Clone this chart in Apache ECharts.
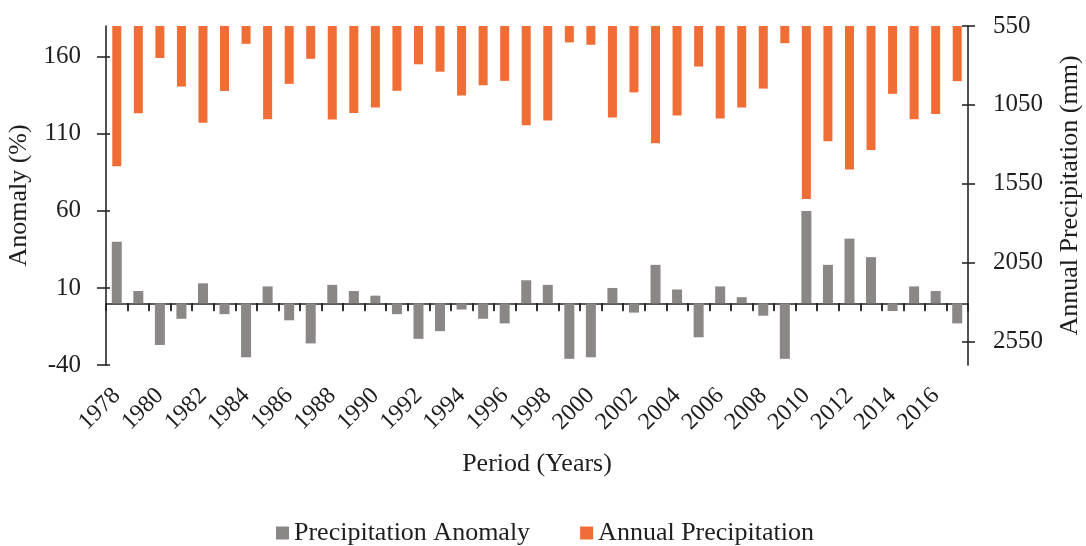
<!DOCTYPE html>
<html>
<head>
<meta charset="utf-8">
<script src="https://cdn.jsdelivr.net/npm/echarts@6/dist/echarts.min.js"></script>
<style>html,body{margin:0;padding:0;background:#fff}#c{width:1086px;height:546px}</style>
</head>
<body>
<div id="c"></div>
<script>
const years = ['1978','1979','1980','1981','1982','1983','1984','1985','1986','1987','1988','1989','1990','1991','1992','1993','1994','1995','1996','1997','1998','1999','2000','2001','2002','2003','2004','2005','2006','2007','2008','2009','2010','2011','2012','2013','2014','2015','2016','2017'];
const anomaly = [40,8,-27,-10,13,-7,-35,11,-11,-26,12,8,5,-7,-23,-18,-4,-10,-13,15,12,-36,-35,10,-6,25,9,-22,11,4,-8,-36,60,25,42,30,-5,11,8,-13];
const precipitation = [1440,1103,753,934,1163,962,663,1141,917,758,1143,1101,1067,961,793,840,991,926,898,1179,1150,654,669,1130,971,1293,1117,807,1137,1067,947,659,1647,1281,1460,1336,980,1141,1108,900];
const leftTicks = [-40,10,60,110,160];
const rightTicks = [550,1050,1550,2050,2550];

const FONT = 'Liberation Serif';
const AX = '#262626';
const TXT = '#1e1e1e';
const plain = v => String(v);
const chart = echarts.init(document.getElementById('c'));
chart.setOption({
  animation: false,
  grid: {left: 106, right: 118, top: 26, bottom: 181, containLabel: false, outerBoundsMode: 'none'},
  legend: {
    left: 271, top: 515, itemWidth: 13, itemHeight: 13, itemGap: 50,
    icon: 'rect',
    textStyle: {fontFamily: FONT, fontSize: 26, color: TXT},
    data: ['Precipitation Anomaly', 'Annual Precipitation']
  },
  xAxis: [
    {type: 'category', data: years,
     axisLine: {onZero: true, onZeroAxisIndex: 0, lineStyle: {color: AX, width: 1.6}},
     axisTick: {show: true, interval: 0, length: 8, inside: false, lineStyle: {color: AX, width: 1.6}},
     axisLabel: {show: false}},
    {type: 'category', data: years, position: 'bottom',
     axisLine: {show: false, onZero: false}, axisTick: {show: false},
     axisLabel: {show: true, interval: 1, rotate: 45, margin: 27, fontFamily: FONT, fontSize: 24, color: TXT},
     name: 'Period (Years)', nameLocation: 'middle', nameGap: 86,
     nameTextStyle: {fontFamily: FONT, fontSize: 26, color: TXT}},
    {type: 'category', data: years,
     axisLine: {show: false, onZero: true, onZeroAxisIndex: 0},
     axisTick: {show: true, interval: 0, length: 7, inside: true, lineStyle: {color: AX, width: 1.6}},
     axisLabel: {show: false}}
  ],
  yAxis: [
    {type: 'value', position: 'left', min: -40, max: 180, splitLine: {show: false},
     axisLine: {show: true, lineStyle: {color: AX, width: 1.6}},
     axisTick: {show: true, length: 9, customValues: leftTicks, lineStyle: {color: AX, width: 1.6}},
     axisLabel: {show: true, customValues: leftTicks, formatter: plain, margin: 25, fontFamily: FONT, fontSize: 25, color: TXT},
     name: 'Anomaly (%)', nameLocation: 'middle', nameGap: 70, nameRotate: 90,
     nameTextStyle: {fontFamily: FONT, fontSize: 26, color: TXT}},
    {type: 'value', position: 'right', min: 550, max: 2700, inverse: true, splitLine: {show: false},
     axisLine: {show: true, lineStyle: {color: AX, width: 1.6}},
     axisTick: {show: true, length: 7, customValues: rightTicks, lineStyle: {color: AX, width: 1.6}},
     axisLabel: {show: true, customValues: rightTicks, formatter: plain, margin: 25, fontFamily: FONT, fontSize: 25, color: TXT},
     name: 'Annual Precipitation (mm)', nameLocation: 'middle', nameGap: 89, nameRotate: 90,
     nameTextStyle: {fontFamily: FONT, fontSize: 26, color: TXT}},
    {type: 'value', position: 'left', min: -40, max: 180, splitLine: {show: false},
     axisLine: {show: false},
     axisTick: {show: true, inside: true, length: 4, customValues: leftTicks, lineStyle: {color: AX, width: 1.6}},
     axisLabel: {show: false}},
    {type: 'value', position: 'right', min: 550, max: 2700, inverse: true, splitLine: {show: false},
     axisLine: {show: false},
     axisTick: {show: true, inside: true, length: 6, customValues: rightTicks, lineStyle: {color: AX, width: 1.6}},
     axisLabel: {show: false}}
  ],
  series: [
    {name: 'Precipitation Anomaly', type: 'bar', xAxisIndex: 0, yAxisIndex: 0,
     data: anomaly, barWidth: 10, itemStyle: {color: '#8b8786'}, z: 3},
    {name: 'Annual Precipitation', type: 'bar', xAxisIndex: 1, yAxisIndex: 1,
     data: precipitation, barWidth: 9, itemStyle: {color: '#f06d36'}, z: 2}
  ]
});
</script>
</body>
</html>
